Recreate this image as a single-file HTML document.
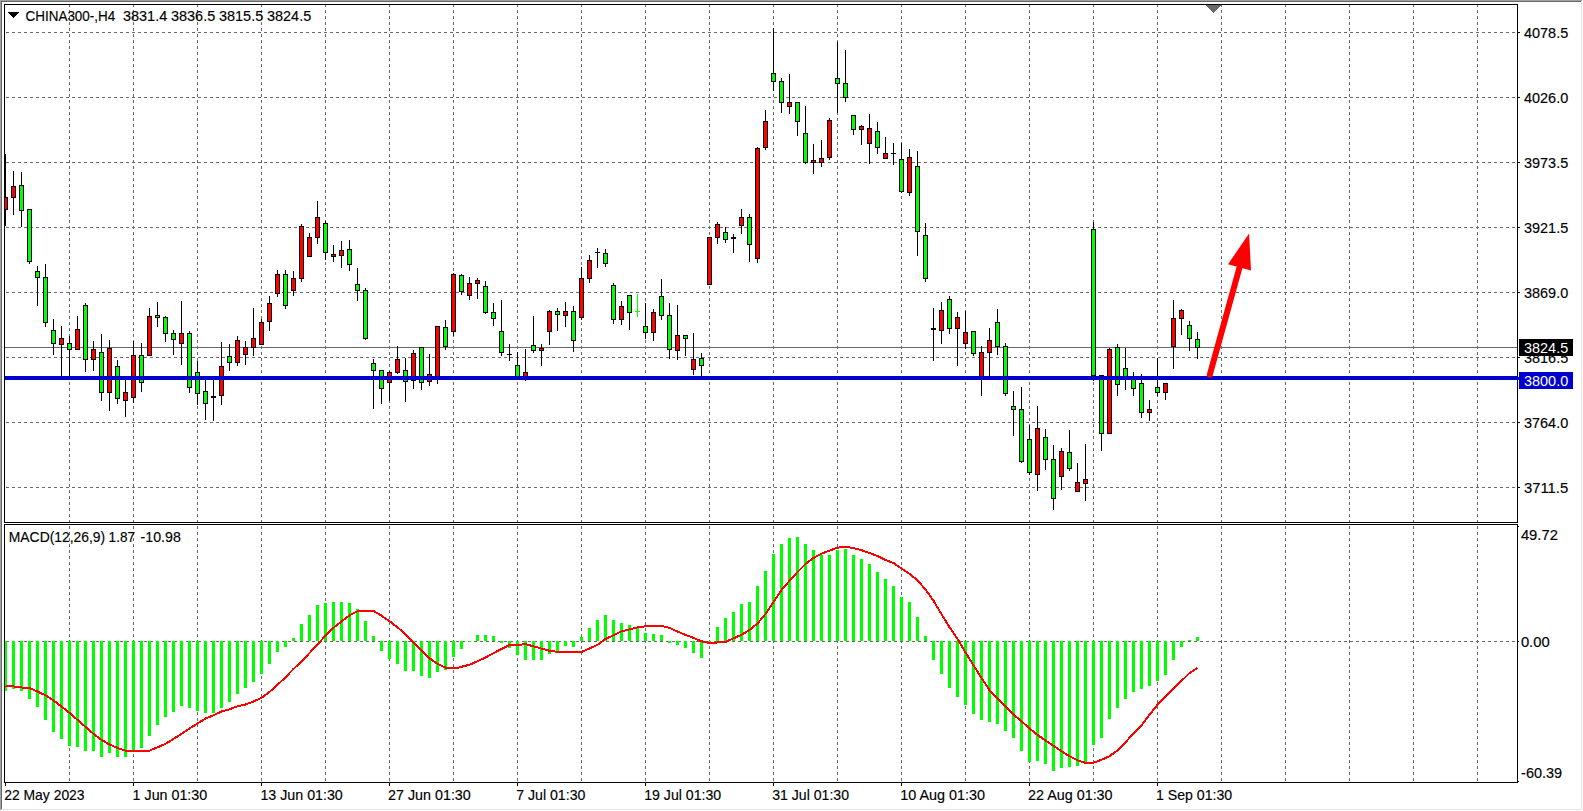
<!DOCTYPE html>
<html lang="en">
<head>
<meta charset="utf-8">
<title>CHINA300-,H4</title>
<style>
html,body{margin:0;padding:0;background:#fff;overflow:hidden}
svg{display:block}
text{font-family:"Liberation Sans", sans-serif;font-size:14.5px;white-space:pre;stroke-width:0.15px}
</style>
</head>
<body>
<svg width="1583" height="811" viewBox="0 0 1583 811">
<rect x="0" y="0" width="1583" height="811" fill="#fff"/>
<defs>
<clipPath id="cm"><rect x="5" y="5" width="1512" height="517"/></clipPath>
<clipPath id="cs"><rect x="5" y="525" width="1512" height="257"/></clipPath>
</defs>
<g shape-rendering="crispEdges">
<rect x="0" y="0" width="1583" height="1" fill="#a0a0a0"/><rect x="0" y="0" width="1" height="811" fill="#a0a0a0"/><rect x="1" y="1" width="1581" height="1" fill="#696969"/><rect x="1" y="1" width="1" height="809" fill="#696969"/><rect x="1" y="809" width="1581" height="1" fill="#e3e3e3"/><rect x="1581" y="1" width="1" height="809" fill="#e3e3e3"/><rect x="0" y="810" width="1583" height="1" fill="#ffffff"/><rect x="1582" y="0" width="1" height="811" fill="#ffffff"/>
<g stroke="#696969" stroke-width="1" stroke-dasharray="3 3" fill="none">
<line x1="69.5" y1="5" x2="69.5" y2="522" stroke-dashoffset="1"/><line x1="69.5" y1="525" x2="69.5" y2="782" stroke-dashoffset="5"/><line x1="133.5" y1="5" x2="133.5" y2="522" stroke-dashoffset="1"/><line x1="133.5" y1="525" x2="133.5" y2="782" stroke-dashoffset="5"/><line x1="197.5" y1="5" x2="197.5" y2="522" stroke-dashoffset="1"/><line x1="197.5" y1="525" x2="197.5" y2="782" stroke-dashoffset="5"/><line x1="261.5" y1="5" x2="261.5" y2="522" stroke-dashoffset="1"/><line x1="261.5" y1="525" x2="261.5" y2="782" stroke-dashoffset="5"/><line x1="325.5" y1="5" x2="325.5" y2="522" stroke-dashoffset="1"/><line x1="325.5" y1="525" x2="325.5" y2="782" stroke-dashoffset="5"/><line x1="389.5" y1="5" x2="389.5" y2="522" stroke-dashoffset="1"/><line x1="389.5" y1="525" x2="389.5" y2="782" stroke-dashoffset="5"/><line x1="453.5" y1="5" x2="453.5" y2="522" stroke-dashoffset="1"/><line x1="453.5" y1="525" x2="453.5" y2="782" stroke-dashoffset="5"/><line x1="517.5" y1="5" x2="517.5" y2="522" stroke-dashoffset="1"/><line x1="517.5" y1="525" x2="517.5" y2="782" stroke-dashoffset="5"/><line x1="581.5" y1="5" x2="581.5" y2="522" stroke-dashoffset="1"/><line x1="581.5" y1="525" x2="581.5" y2="782" stroke-dashoffset="5"/><line x1="645.5" y1="5" x2="645.5" y2="522" stroke-dashoffset="1"/><line x1="645.5" y1="525" x2="645.5" y2="782" stroke-dashoffset="5"/><line x1="709.5" y1="5" x2="709.5" y2="522" stroke-dashoffset="1"/><line x1="709.5" y1="525" x2="709.5" y2="782" stroke-dashoffset="5"/><line x1="773.5" y1="5" x2="773.5" y2="522" stroke-dashoffset="1"/><line x1="773.5" y1="525" x2="773.5" y2="782" stroke-dashoffset="5"/><line x1="837.5" y1="5" x2="837.5" y2="522" stroke-dashoffset="1"/><line x1="837.5" y1="525" x2="837.5" y2="782" stroke-dashoffset="5"/><line x1="901.5" y1="5" x2="901.5" y2="522" stroke-dashoffset="1"/><line x1="901.5" y1="525" x2="901.5" y2="782" stroke-dashoffset="5"/><line x1="965.5" y1="5" x2="965.5" y2="522" stroke-dashoffset="1"/><line x1="965.5" y1="525" x2="965.5" y2="782" stroke-dashoffset="5"/><line x1="1029.5" y1="5" x2="1029.5" y2="522" stroke-dashoffset="1"/><line x1="1029.5" y1="525" x2="1029.5" y2="782" stroke-dashoffset="5"/><line x1="1093.5" y1="5" x2="1093.5" y2="522" stroke-dashoffset="1"/><line x1="1093.5" y1="525" x2="1093.5" y2="782" stroke-dashoffset="5"/><line x1="1157.5" y1="5" x2="1157.5" y2="522" stroke-dashoffset="1"/><line x1="1157.5" y1="525" x2="1157.5" y2="782" stroke-dashoffset="5"/><line x1="1221.5" y1="5" x2="1221.5" y2="522" stroke-dashoffset="1"/><line x1="1221.5" y1="525" x2="1221.5" y2="782" stroke-dashoffset="5"/><line x1="1285.5" y1="5" x2="1285.5" y2="522" stroke-dashoffset="1"/><line x1="1285.5" y1="525" x2="1285.5" y2="782" stroke-dashoffset="5"/><line x1="1349.5" y1="5" x2="1349.5" y2="522" stroke-dashoffset="1"/><line x1="1349.5" y1="525" x2="1349.5" y2="782" stroke-dashoffset="5"/><line x1="1413.5" y1="5" x2="1413.5" y2="522" stroke-dashoffset="1"/><line x1="1413.5" y1="525" x2="1413.5" y2="782" stroke-dashoffset="5"/><line x1="1477.5" y1="5" x2="1477.5" y2="522" stroke-dashoffset="1"/><line x1="1477.5" y1="525" x2="1477.5" y2="782" stroke-dashoffset="5"/><line x1="5" y1="32.5" x2="1517" y2="32.5" stroke-dashoffset="5"/><line x1="5" y1="97.5" x2="1517" y2="97.5" stroke-dashoffset="5"/><line x1="5" y1="162.5" x2="1517" y2="162.5" stroke-dashoffset="5"/><line x1="5" y1="227.5" x2="1517" y2="227.5" stroke-dashoffset="5"/><line x1="5" y1="292.5" x2="1517" y2="292.5" stroke-dashoffset="5"/><line x1="5" y1="357.5" x2="1517" y2="357.5" stroke-dashoffset="5"/><line x1="5" y1="422.5" x2="1517" y2="422.5" stroke-dashoffset="5"/><line x1="5" y1="487.5" x2="1517" y2="487.5" stroke-dashoffset="5"/><line x1="5" y1="641.5" x2="1517" y2="641.5" stroke-dashoffset="5"/>
</g>
<g clip-path="url(#cm)">
<rect x="5" y="347" width="1512" height="1" fill="#696969"/>
<rect x="5" y="154" width="1" height="72" fill="#000"/><rect x="3" y="197" width="5" height="13" fill="#000"/><rect x="4" y="198" width="3" height="11" fill="#ff0000"/><rect x="13" y="171" width="1" height="44" fill="#000"/><rect x="11" y="186" width="5" height="12" fill="#000"/><rect x="12" y="187" width="3" height="10" fill="#ff0000"/><rect x="21" y="172" width="1" height="55" fill="#000"/><rect x="19" y="185" width="5" height="26" fill="#000"/><rect x="20" y="186" width="3" height="24" fill="#00ff00"/><rect x="29" y="209" width="1" height="55" fill="#000"/><rect x="27" y="209" width="5" height="53" fill="#000"/><rect x="28" y="210" width="3" height="51" fill="#00ff00"/><rect x="37" y="266" width="1" height="40" fill="#000"/><rect x="35" y="271" width="5" height="7" fill="#000"/><rect x="36" y="272" width="3" height="5" fill="#00ff00"/><rect x="45" y="264" width="1" height="63" fill="#000"/><rect x="43" y="277" width="5" height="46" fill="#000"/><rect x="44" y="278" width="3" height="44" fill="#00ff00"/><rect x="53" y="319" width="1" height="36" fill="#000"/><rect x="51" y="330" width="5" height="14" fill="#000"/><rect x="52" y="331" width="3" height="12" fill="#00ff00"/><rect x="61" y="326" width="1" height="52" fill="#000"/><rect x="59" y="338" width="5" height="7" fill="#000"/><rect x="60" y="339" width="3" height="5" fill="#ff0000"/><rect x="69" y="336" width="1" height="42" fill="#000"/><rect x="67" y="343" width="5" height="7" fill="#000"/><rect x="68" y="344" width="3" height="5" fill="#00ff00"/><rect x="77" y="316" width="1" height="34" fill="#000"/><rect x="75" y="329" width="5" height="21" fill="#000"/><rect x="76" y="330" width="3" height="19" fill="#ff0000"/><rect x="85" y="303" width="1" height="69" fill="#000"/><rect x="83" y="305" width="5" height="55" fill="#000"/><rect x="84" y="306" width="3" height="53" fill="#00ff00"/><rect x="93" y="341" width="1" height="30" fill="#000"/><rect x="91" y="349" width="5" height="11" fill="#000"/><rect x="92" y="350" width="3" height="9" fill="#ff0000"/><rect x="101" y="334" width="1" height="67" fill="#000"/><rect x="99" y="352" width="5" height="41" fill="#000"/><rect x="100" y="353" width="3" height="39" fill="#00ff00"/><rect x="109" y="340" width="1" height="71" fill="#000"/><rect x="107" y="348" width="5" height="45" fill="#000"/><rect x="108" y="349" width="3" height="43" fill="#ff0000"/><rect x="117" y="360" width="1" height="44" fill="#000"/><rect x="115" y="366" width="5" height="33" fill="#000"/><rect x="116" y="367" width="3" height="31" fill="#00ff00"/><rect x="125" y="378" width="1" height="39" fill="#000"/><rect x="123" y="392" width="5" height="9" fill="#000"/><rect x="124" y="393" width="3" height="7" fill="#ff0000"/><rect x="133" y="341" width="1" height="62" fill="#000"/><rect x="131" y="355" width="5" height="43" fill="#000"/><rect x="132" y="356" width="3" height="41" fill="#ff0000"/><rect x="141" y="343" width="1" height="49" fill="#000"/><rect x="139" y="355" width="5" height="28" fill="#000"/><rect x="140" y="356" width="3" height="26" fill="#00ff00"/><rect x="149" y="308" width="1" height="48" fill="#000"/><rect x="147" y="316" width="5" height="40" fill="#000"/><rect x="148" y="317" width="3" height="38" fill="#ff0000"/><rect x="157" y="302" width="1" height="25" fill="#000"/><rect x="155" y="315" width="5" height="3" fill="#000"/><rect x="156" y="316" width="3" height="1" fill="#00ff00"/><rect x="165" y="316" width="1" height="26" fill="#000"/><rect x="163" y="317" width="5" height="17" fill="#000"/><rect x="164" y="318" width="3" height="15" fill="#00ff00"/><rect x="173" y="330" width="1" height="25" fill="#000"/><rect x="171" y="333" width="5" height="7" fill="#000"/><rect x="172" y="334" width="3" height="5" fill="#00ff00"/><rect x="181" y="301" width="1" height="64" fill="#000"/><rect x="179" y="333" width="5" height="11" fill="#000"/><rect x="180" y="334" width="3" height="9" fill="#ff0000"/><rect x="189" y="331" width="1" height="62" fill="#000"/><rect x="187" y="333" width="5" height="55" fill="#000"/><rect x="188" y="334" width="3" height="53" fill="#00ff00"/><rect x="197" y="361" width="1" height="44" fill="#000"/><rect x="195" y="372" width="5" height="22" fill="#000"/><rect x="196" y="373" width="3" height="20" fill="#00ff00"/><rect x="205" y="378" width="1" height="42" fill="#000"/><rect x="203" y="391" width="5" height="13" fill="#000"/><rect x="204" y="392" width="3" height="11" fill="#00ff00"/><rect x="213" y="378" width="1" height="43" fill="#000"/><rect x="211" y="396" width="5" height="2" fill="#000"/><rect x="221" y="342" width="1" height="63" fill="#000"/><rect x="219" y="366" width="5" height="30" fill="#000"/><rect x="220" y="367" width="3" height="28" fill="#ff0000"/><rect x="229" y="344" width="1" height="27" fill="#000"/><rect x="227" y="356" width="5" height="7" fill="#000"/><rect x="228" y="357" width="3" height="5" fill="#00ff00"/><rect x="237" y="336" width="1" height="30" fill="#000"/><rect x="235" y="340" width="5" height="23" fill="#000"/><rect x="236" y="341" width="3" height="21" fill="#ff0000"/><rect x="245" y="341" width="1" height="24" fill="#000"/><rect x="243" y="347" width="5" height="8" fill="#000"/><rect x="244" y="348" width="3" height="6" fill="#ff0000"/><rect x="253" y="308" width="1" height="48" fill="#000"/><rect x="251" y="338" width="5" height="10" fill="#000"/><rect x="252" y="339" width="3" height="8" fill="#ff0000"/><rect x="261" y="319" width="1" height="26" fill="#000"/><rect x="259" y="322" width="5" height="23" fill="#000"/><rect x="260" y="323" width="3" height="21" fill="#ff0000"/><rect x="269" y="296" width="1" height="35" fill="#000"/><rect x="267" y="303" width="5" height="19" fill="#000"/><rect x="268" y="304" width="3" height="17" fill="#ff0000"/><rect x="277" y="270" width="1" height="27" fill="#000"/><rect x="275" y="274" width="5" height="20" fill="#000"/><rect x="276" y="275" width="3" height="18" fill="#ff0000"/><rect x="285" y="270" width="1" height="39" fill="#000"/><rect x="283" y="274" width="5" height="32" fill="#000"/><rect x="284" y="275" width="3" height="30" fill="#00ff00"/><rect x="293" y="271" width="1" height="25" fill="#000"/><rect x="291" y="278" width="5" height="13" fill="#000"/><rect x="292" y="279" width="3" height="11" fill="#ff0000"/><rect x="301" y="224" width="1" height="58" fill="#000"/><rect x="299" y="226" width="5" height="53" fill="#000"/><rect x="300" y="227" width="3" height="51" fill="#ff0000"/><rect x="309" y="233" width="1" height="24" fill="#000"/><rect x="307" y="237" width="5" height="20" fill="#000"/><rect x="308" y="238" width="3" height="18" fill="#ff0000"/><rect x="317" y="201" width="1" height="43" fill="#000"/><rect x="315" y="217" width="5" height="21" fill="#000"/><rect x="316" y="218" width="3" height="19" fill="#ff0000"/><rect x="325" y="221" width="1" height="39" fill="#000"/><rect x="323" y="223" width="5" height="30" fill="#000"/><rect x="324" y="224" width="3" height="28" fill="#00ff00"/><rect x="333" y="245" width="1" height="17" fill="#000"/><rect x="331" y="254" width="5" height="3" fill="#000"/><rect x="332" y="255" width="3" height="1" fill="#ff0000"/><rect x="341" y="241" width="1" height="27" fill="#000"/><rect x="339" y="250" width="5" height="6" fill="#000"/><rect x="340" y="251" width="3" height="4" fill="#ff0000"/><rect x="349" y="240" width="1" height="31" fill="#000"/><rect x="347" y="249" width="5" height="16" fill="#000"/><rect x="348" y="250" width="3" height="14" fill="#00ff00"/><rect x="357" y="268" width="1" height="33" fill="#000"/><rect x="355" y="284" width="5" height="7" fill="#000"/><rect x="356" y="285" width="3" height="5" fill="#00ff00"/><rect x="365" y="288" width="1" height="52" fill="#000"/><rect x="363" y="290" width="5" height="49" fill="#000"/><rect x="364" y="291" width="3" height="47" fill="#00ff00"/><rect x="373" y="359" width="1" height="50" fill="#000"/><rect x="371" y="363" width="5" height="8" fill="#000"/><rect x="372" y="364" width="3" height="6" fill="#00ff00"/><rect x="381" y="370" width="1" height="34" fill="#000"/><rect x="379" y="370" width="5" height="19" fill="#000"/><rect x="380" y="371" width="3" height="17" fill="#00ff00"/><rect x="389" y="371" width="1" height="30" fill="#000"/><rect x="387" y="372" width="5" height="11" fill="#000"/><rect x="388" y="373" width="3" height="9" fill="#ff0000"/><rect x="397" y="346" width="1" height="28" fill="#000"/><rect x="395" y="359" width="5" height="14" fill="#000"/><rect x="396" y="360" width="3" height="12" fill="#ff0000"/><rect x="405" y="358" width="1" height="44" fill="#000"/><rect x="403" y="370" width="5" height="12" fill="#000"/><rect x="404" y="371" width="3" height="10" fill="#00ff00"/><rect x="413" y="350" width="1" height="39" fill="#000"/><rect x="411" y="353" width="5" height="28" fill="#000"/><rect x="412" y="354" width="3" height="26" fill="#ff0000"/><rect x="421" y="347" width="1" height="43" fill="#000"/><rect x="419" y="347" width="5" height="36" fill="#000"/><rect x="420" y="348" width="3" height="34" fill="#00ff00"/><rect x="429" y="354" width="1" height="32" fill="#000"/><rect x="427" y="374" width="5" height="8" fill="#000"/><rect x="428" y="375" width="3" height="6" fill="#ff0000"/><rect x="437" y="326" width="1" height="58" fill="#000"/><rect x="435" y="326" width="5" height="53" fill="#000"/><rect x="436" y="327" width="3" height="51" fill="#ff0000"/><rect x="445" y="320" width="1" height="30" fill="#000"/><rect x="443" y="327" width="5" height="20" fill="#000"/><rect x="444" y="328" width="3" height="18" fill="#00ff00"/><rect x="453" y="273" width="1" height="63" fill="#000"/><rect x="451" y="274" width="5" height="58" fill="#000"/><rect x="452" y="275" width="3" height="56" fill="#ff0000"/><rect x="461" y="274" width="1" height="21" fill="#000"/><rect x="459" y="275" width="5" height="17" fill="#000"/><rect x="460" y="276" width="3" height="15" fill="#00ff00"/><rect x="469" y="277" width="1" height="23" fill="#000"/><rect x="467" y="283" width="5" height="13" fill="#000"/><rect x="468" y="284" width="3" height="11" fill="#ff0000"/><rect x="477" y="278" width="1" height="21" fill="#000"/><rect x="475" y="280" width="5" height="4" fill="#000"/><rect x="476" y="281" width="3" height="2" fill="#ff0000"/><rect x="485" y="281" width="1" height="33" fill="#000"/><rect x="483" y="286" width="5" height="27" fill="#000"/><rect x="484" y="287" width="3" height="25" fill="#00ff00"/><rect x="493" y="303" width="1" height="23" fill="#000"/><rect x="491" y="312" width="5" height="7" fill="#000"/><rect x="492" y="313" width="3" height="5" fill="#00ff00"/><rect x="501" y="300" width="1" height="56" fill="#000"/><rect x="499" y="331" width="5" height="22" fill="#000"/><rect x="500" y="332" width="3" height="20" fill="#00ff00"/><rect x="509" y="344" width="1" height="17" fill="#000"/><rect x="507" y="354" width="5" height="1" fill="#000"/><rect x="517" y="352" width="1" height="28" fill="#000"/><rect x="515" y="365" width="5" height="15" fill="#000"/><rect x="516" y="366" width="3" height="13" fill="#00ff00"/><rect x="525" y="349" width="1" height="32" fill="#000"/><rect x="523" y="372" width="5" height="7" fill="#000"/><rect x="524" y="373" width="3" height="5" fill="#ff0000"/><rect x="533" y="316" width="1" height="37" fill="#000"/><rect x="531" y="345" width="5" height="6" fill="#000"/><rect x="532" y="346" width="3" height="4" fill="#00ff00"/><rect x="541" y="344" width="1" height="22" fill="#000"/><rect x="539" y="348" width="5" height="3" fill="#000"/><rect x="540" y="349" width="3" height="1" fill="#ff0000"/><rect x="549" y="310" width="1" height="35" fill="#000"/><rect x="547" y="311" width="5" height="21" fill="#000"/><rect x="548" y="312" width="3" height="19" fill="#ff0000"/><rect x="557" y="308" width="1" height="23" fill="#000"/><rect x="555" y="311" width="5" height="4" fill="#000"/><rect x="556" y="312" width="3" height="2" fill="#00ff00"/><rect x="565" y="302" width="1" height="25" fill="#000"/><rect x="563" y="311" width="5" height="5" fill="#000"/><rect x="564" y="312" width="3" height="3" fill="#ff0000"/><rect x="573" y="306" width="1" height="46" fill="#000"/><rect x="571" y="311" width="5" height="30" fill="#000"/><rect x="572" y="312" width="3" height="28" fill="#00ff00"/><rect x="581" y="267" width="1" height="53" fill="#000"/><rect x="579" y="278" width="5" height="40" fill="#000"/><rect x="580" y="279" width="3" height="38" fill="#ff0000"/><rect x="589" y="255" width="1" height="28" fill="#000"/><rect x="587" y="260" width="5" height="19" fill="#000"/><rect x="588" y="261" width="3" height="17" fill="#ff0000"/><rect x="597" y="248" width="1" height="20" fill="#000"/><rect x="595" y="252" width="5" height="1" fill="#000"/><rect x="605" y="249" width="1" height="18" fill="#000"/><rect x="603" y="253" width="5" height="11" fill="#000"/><rect x="604" y="254" width="3" height="9" fill="#00ff00"/><rect x="613" y="283" width="1" height="41" fill="#000"/><rect x="611" y="285" width="5" height="35" fill="#000"/><rect x="612" y="286" width="3" height="33" fill="#00ff00"/><rect x="621" y="301" width="1" height="24" fill="#000"/><rect x="619" y="306" width="5" height="14" fill="#000"/><rect x="620" y="307" width="3" height="12" fill="#ff0000"/><rect x="629" y="295" width="1" height="35" fill="#000"/><rect x="627" y="295" width="5" height="18" fill="#000"/><rect x="628" y="296" width="3" height="16" fill="#00ff00"/><rect x="637" y="294" width="1" height="23" fill="#00ff00"/><rect x="635" y="311" width="5" height="1" fill="#00ff00"/><rect x="645" y="303" width="1" height="36" fill="#000"/><rect x="643" y="326" width="5" height="7" fill="#000"/><rect x="644" y="327" width="3" height="5" fill="#00ff00"/><rect x="653" y="309" width="1" height="32" fill="#000"/><rect x="651" y="312" width="5" height="21" fill="#000"/><rect x="652" y="313" width="3" height="19" fill="#ff0000"/><rect x="661" y="279" width="1" height="41" fill="#000"/><rect x="659" y="296" width="5" height="20" fill="#000"/><rect x="660" y="297" width="3" height="18" fill="#00ff00"/><rect x="669" y="303" width="1" height="56" fill="#000"/><rect x="667" y="315" width="5" height="35" fill="#000"/><rect x="668" y="316" width="3" height="33" fill="#00ff00"/><rect x="677" y="305" width="1" height="55" fill="#000"/><rect x="675" y="335" width="5" height="16" fill="#000"/><rect x="676" y="336" width="3" height="14" fill="#ff0000"/><rect x="685" y="335" width="1" height="21" fill="#000"/><rect x="683" y="335" width="5" height="4" fill="#000"/><rect x="684" y="336" width="3" height="2" fill="#00ff00"/><rect x="693" y="333" width="1" height="42" fill="#000"/><rect x="691" y="359" width="5" height="11" fill="#000"/><rect x="692" y="360" width="3" height="9" fill="#ff0000"/><rect x="701" y="353" width="1" height="24" fill="#000"/><rect x="699" y="358" width="5" height="8" fill="#000"/><rect x="700" y="359" width="3" height="6" fill="#00ff00"/><rect x="709" y="237" width="1" height="48" fill="#000"/><rect x="707" y="237" width="5" height="48" fill="#000"/><rect x="708" y="238" width="3" height="46" fill="#ff0000"/><rect x="717" y="222" width="1" height="22" fill="#000"/><rect x="715" y="224" width="5" height="14" fill="#000"/><rect x="716" y="225" width="3" height="12" fill="#ff0000"/><rect x="725" y="227" width="1" height="16" fill="#000"/><rect x="723" y="232" width="5" height="8" fill="#000"/><rect x="724" y="233" width="3" height="6" fill="#00ff00"/><rect x="733" y="234" width="1" height="19" fill="#000"/><rect x="731" y="237" width="5" height="2" fill="#000"/><rect x="741" y="209" width="1" height="25" fill="#000"/><rect x="739" y="217" width="5" height="9" fill="#000"/><rect x="740" y="218" width="3" height="7" fill="#ff0000"/><rect x="749" y="214" width="1" height="48" fill="#000"/><rect x="747" y="217" width="5" height="28" fill="#000"/><rect x="748" y="218" width="3" height="26" fill="#00ff00"/><rect x="757" y="147" width="1" height="116" fill="#000"/><rect x="755" y="148" width="5" height="111" fill="#000"/><rect x="756" y="149" width="3" height="109" fill="#ff0000"/><rect x="765" y="110" width="1" height="40" fill="#000"/><rect x="763" y="121" width="5" height="27" fill="#000"/><rect x="764" y="122" width="3" height="25" fill="#ff0000"/><rect x="773" y="28" width="1" height="63" fill="#000"/><rect x="771" y="73" width="5" height="9" fill="#000"/><rect x="772" y="74" width="3" height="7" fill="#00ff00"/><rect x="781" y="78" width="1" height="35" fill="#000"/><rect x="779" y="81" width="5" height="22" fill="#000"/><rect x="780" y="82" width="3" height="20" fill="#00ff00"/><rect x="789" y="74" width="1" height="40" fill="#000"/><rect x="787" y="102" width="5" height="5" fill="#000"/><rect x="788" y="103" width="3" height="3" fill="#ff0000"/><rect x="797" y="102" width="1" height="34" fill="#000"/><rect x="795" y="102" width="5" height="20" fill="#000"/><rect x="796" y="103" width="3" height="18" fill="#00ff00"/><rect x="805" y="106" width="1" height="58" fill="#000"/><rect x="803" y="133" width="5" height="30" fill="#000"/><rect x="804" y="134" width="3" height="28" fill="#00ff00"/><rect x="813" y="144" width="1" height="30" fill="#000"/><rect x="811" y="160" width="5" height="3" fill="#000"/><rect x="812" y="161" width="3" height="1" fill="#ff0000"/><rect x="821" y="140" width="1" height="27" fill="#000"/><rect x="819" y="158" width="5" height="5" fill="#000"/><rect x="820" y="159" width="3" height="3" fill="#ff0000"/><rect x="829" y="118" width="1" height="42" fill="#000"/><rect x="827" y="120" width="5" height="38" fill="#000"/><rect x="828" y="121" width="3" height="36" fill="#ff0000"/><rect x="837" y="42" width="1" height="71" fill="#000"/><rect x="835" y="78" width="5" height="6" fill="#000"/><rect x="836" y="79" width="3" height="4" fill="#00ff00"/><rect x="845" y="50" width="1" height="52" fill="#000"/><rect x="843" y="83" width="5" height="15" fill="#000"/><rect x="844" y="84" width="3" height="13" fill="#00ff00"/><rect x="853" y="115" width="1" height="20" fill="#000"/><rect x="851" y="115" width="5" height="15" fill="#000"/><rect x="852" y="116" width="3" height="13" fill="#00ff00"/><rect x="861" y="125" width="1" height="20" fill="#000"/><rect x="859" y="126" width="5" height="4" fill="#000"/><rect x="860" y="127" width="3" height="2" fill="#ff0000"/><rect x="869" y="114" width="1" height="50" fill="#000"/><rect x="867" y="128" width="5" height="16" fill="#000"/><rect x="868" y="129" width="3" height="14" fill="#ff0000"/><rect x="877" y="122" width="1" height="32" fill="#000"/><rect x="875" y="131" width="5" height="17" fill="#000"/><rect x="876" y="132" width="3" height="15" fill="#00ff00"/><rect x="885" y="137" width="1" height="22" fill="#000"/><rect x="883" y="153" width="5" height="6" fill="#000"/><rect x="884" y="154" width="3" height="4" fill="#ff0000"/><rect x="893" y="143" width="1" height="22" fill="#000"/><rect x="891" y="153" width="5" height="1" fill="#000"/><rect x="901" y="143" width="1" height="50" fill="#000"/><rect x="899" y="159" width="5" height="33" fill="#000"/><rect x="900" y="160" width="3" height="31" fill="#00ff00"/><rect x="909" y="149" width="1" height="47" fill="#000"/><rect x="907" y="157" width="5" height="36" fill="#000"/><rect x="908" y="158" width="3" height="34" fill="#ff0000"/><rect x="917" y="151" width="1" height="105" fill="#000"/><rect x="915" y="166" width="5" height="66" fill="#000"/><rect x="916" y="167" width="3" height="64" fill="#00ff00"/><rect x="925" y="223" width="1" height="59" fill="#000"/><rect x="923" y="235" width="5" height="44" fill="#000"/><rect x="924" y="236" width="3" height="42" fill="#00ff00"/><rect x="933" y="308" width="1" height="53" fill="#000"/><rect x="931" y="328" width="5" height="2" fill="#000"/><rect x="941" y="302" width="1" height="42" fill="#000"/><rect x="939" y="310" width="5" height="21" fill="#000"/><rect x="940" y="311" width="3" height="19" fill="#ff0000"/><rect x="949" y="296" width="1" height="38" fill="#000"/><rect x="947" y="299" width="5" height="30" fill="#000"/><rect x="948" y="300" width="3" height="28" fill="#00ff00"/><rect x="957" y="312" width="1" height="54" fill="#000"/><rect x="955" y="317" width="5" height="12" fill="#000"/><rect x="956" y="318" width="3" height="10" fill="#ff0000"/><rect x="965" y="311" width="1" height="38" fill="#000"/><rect x="963" y="332" width="5" height="12" fill="#000"/><rect x="964" y="333" width="3" height="10" fill="#ff0000"/><rect x="973" y="331" width="1" height="25" fill="#000"/><rect x="971" y="331" width="5" height="23" fill="#000"/><rect x="972" y="332" width="3" height="21" fill="#00ff00"/><rect x="981" y="346" width="1" height="50" fill="#000"/><rect x="979" y="352" width="5" height="27" fill="#000"/><rect x="980" y="353" width="3" height="25" fill="#ff0000"/><rect x="989" y="328" width="1" height="50" fill="#000"/><rect x="987" y="340" width="5" height="13" fill="#000"/><rect x="988" y="341" width="3" height="11" fill="#ff0000"/><rect x="997" y="309" width="1" height="46" fill="#000"/><rect x="995" y="322" width="5" height="25" fill="#000"/><rect x="996" y="323" width="3" height="23" fill="#00ff00"/><rect x="1005" y="343" width="1" height="53" fill="#000"/><rect x="1003" y="346" width="5" height="48" fill="#000"/><rect x="1004" y="347" width="3" height="46" fill="#00ff00"/><rect x="1013" y="391" width="1" height="45" fill="#000"/><rect x="1011" y="406" width="5" height="4" fill="#000"/><rect x="1012" y="407" width="3" height="2" fill="#00ff00"/><rect x="1021" y="387" width="1" height="76" fill="#000"/><rect x="1019" y="409" width="5" height="53" fill="#000"/><rect x="1020" y="410" width="3" height="51" fill="#00ff00"/><rect x="1029" y="425" width="1" height="50" fill="#000"/><rect x="1027" y="439" width="5" height="34" fill="#000"/><rect x="1028" y="440" width="3" height="32" fill="#00ff00"/><rect x="1037" y="406" width="1" height="85" fill="#000"/><rect x="1035" y="428" width="5" height="47" fill="#000"/><rect x="1036" y="429" width="3" height="45" fill="#ff0000"/><rect x="1045" y="429" width="1" height="41" fill="#000"/><rect x="1043" y="437" width="5" height="23" fill="#000"/><rect x="1044" y="438" width="3" height="21" fill="#00ff00"/><rect x="1053" y="445" width="1" height="65" fill="#000"/><rect x="1051" y="459" width="5" height="40" fill="#000"/><rect x="1052" y="460" width="3" height="38" fill="#00ff00"/><rect x="1061" y="448" width="1" height="42" fill="#000"/><rect x="1059" y="451" width="5" height="26" fill="#000"/><rect x="1060" y="452" width="3" height="24" fill="#ff0000"/><rect x="1069" y="430" width="1" height="41" fill="#000"/><rect x="1067" y="452" width="5" height="17" fill="#000"/><rect x="1068" y="453" width="3" height="15" fill="#00ff00"/><rect x="1077" y="463" width="1" height="29" fill="#000"/><rect x="1075" y="482" width="5" height="10" fill="#000"/><rect x="1076" y="483" width="3" height="8" fill="#ff0000"/><rect x="1085" y="444" width="1" height="57" fill="#000"/><rect x="1083" y="479" width="5" height="5" fill="#000"/><rect x="1084" y="480" width="3" height="3" fill="#ff0000"/><rect x="1093" y="222" width="1" height="159" fill="#000"/><rect x="1091" y="229" width="5" height="147" fill="#000"/><rect x="1092" y="230" width="3" height="145" fill="#00ff00"/><rect x="1101" y="375" width="1" height="76" fill="#000"/><rect x="1099" y="375" width="5" height="59" fill="#000"/><rect x="1100" y="376" width="3" height="57" fill="#00ff00"/><rect x="1109" y="348" width="1" height="86" fill="#000"/><rect x="1107" y="349" width="5" height="85" fill="#000"/><rect x="1108" y="350" width="3" height="83" fill="#ff0000"/><rect x="1117" y="344" width="1" height="52" fill="#000"/><rect x="1115" y="347" width="5" height="38" fill="#000"/><rect x="1116" y="348" width="3" height="36" fill="#00ff00"/><rect x="1125" y="348" width="1" height="42" fill="#000"/><rect x="1123" y="368" width="5" height="11" fill="#000"/><rect x="1124" y="369" width="3" height="9" fill="#00ff00"/><rect x="1133" y="372" width="1" height="24" fill="#000"/><rect x="1131" y="377" width="5" height="12" fill="#000"/><rect x="1132" y="378" width="3" height="10" fill="#00ff00"/><rect x="1141" y="374" width="1" height="44" fill="#000"/><rect x="1139" y="383" width="5" height="30" fill="#000"/><rect x="1140" y="384" width="3" height="28" fill="#00ff00"/><rect x="1149" y="400" width="1" height="21" fill="#000"/><rect x="1147" y="409" width="5" height="4" fill="#000"/><rect x="1148" y="410" width="3" height="2" fill="#ff0000"/><rect x="1157" y="358" width="1" height="38" fill="#000"/><rect x="1155" y="387" width="5" height="6" fill="#000"/><rect x="1156" y="388" width="3" height="4" fill="#00ff00"/><rect x="1165" y="383" width="1" height="17" fill="#000"/><rect x="1163" y="383" width="5" height="10" fill="#000"/><rect x="1164" y="384" width="3" height="8" fill="#ff0000"/><rect x="1173" y="300" width="1" height="69" fill="#000"/><rect x="1171" y="318" width="5" height="29" fill="#000"/><rect x="1172" y="319" width="3" height="27" fill="#ff0000"/><rect x="1181" y="309" width="1" height="26" fill="#000"/><rect x="1179" y="310" width="5" height="9" fill="#000"/><rect x="1180" y="311" width="3" height="7" fill="#ff0000"/><rect x="1189" y="321" width="1" height="30" fill="#000"/><rect x="1187" y="325" width="5" height="14" fill="#000"/><rect x="1188" y="326" width="3" height="12" fill="#00ff00"/><rect x="1197" y="332" width="1" height="27" fill="#000"/><rect x="1195" y="339" width="5" height="9" fill="#000"/><rect x="1196" y="340" width="3" height="7" fill="#00ff00"/>
<rect x="5" y="376" width="1512" height="4" fill="#0000cd"/>
</g>
<g clip-path="url(#cs)">
<rect x="4" y="641" width="3" height="50" fill="#00ff00"/><rect x="12" y="641" width="3" height="48" fill="#00ff00"/><rect x="20" y="641" width="3" height="50" fill="#00ff00"/><rect x="28" y="641" width="3" height="58" fill="#00ff00"/><rect x="36" y="641" width="3" height="66" fill="#00ff00"/><rect x="44" y="641" width="3" height="79" fill="#00ff00"/><rect x="52" y="641" width="3" height="91" fill="#00ff00"/><rect x="60" y="641" width="3" height="98" fill="#00ff00"/><rect x="68" y="641" width="3" height="105" fill="#00ff00"/><rect x="76" y="641" width="3" height="106" fill="#00ff00"/><rect x="84" y="641" width="3" height="110" fill="#00ff00"/><rect x="92" y="641" width="3" height="110" fill="#00ff00"/><rect x="100" y="641" width="3" height="116" fill="#00ff00"/><rect x="108" y="641" width="3" height="112" fill="#00ff00"/><rect x="116" y="641" width="3" height="116" fill="#00ff00"/><rect x="124" y="641" width="3" height="116" fill="#00ff00"/><rect x="132" y="641" width="3" height="111" fill="#00ff00"/><rect x="140" y="641" width="3" height="107" fill="#00ff00"/><rect x="148" y="641" width="3" height="95" fill="#00ff00"/><rect x="156" y="641" width="3" height="84" fill="#00ff00"/><rect x="164" y="641" width="3" height="76" fill="#00ff00"/><rect x="172" y="641" width="3" height="71" fill="#00ff00"/><rect x="180" y="641" width="3" height="65" fill="#00ff00"/><rect x="188" y="641" width="3" height="67" fill="#00ff00"/><rect x="196" y="641" width="3" height="70" fill="#00ff00"/><rect x="204" y="641" width="3" height="72" fill="#00ff00"/><rect x="212" y="641" width="3" height="72" fill="#00ff00"/><rect x="220" y="641" width="3" height="67" fill="#00ff00"/><rect x="228" y="641" width="3" height="61" fill="#00ff00"/><rect x="236" y="641" width="3" height="53" fill="#00ff00"/><rect x="244" y="641" width="3" height="47" fill="#00ff00"/><rect x="252" y="641" width="3" height="41" fill="#00ff00"/><rect x="260" y="641" width="3" height="33" fill="#00ff00"/><rect x="268" y="641" width="3" height="23" fill="#00ff00"/><rect x="276" y="641" width="3" height="11" fill="#00ff00"/><rect x="284" y="641" width="3" height="6" fill="#00ff00"/><rect x="292" y="638" width="3" height="3" fill="#00ff00"/><rect x="300" y="624" width="3" height="17" fill="#00ff00"/><rect x="308" y="615" width="3" height="26" fill="#00ff00"/><rect x="316" y="605" width="3" height="36" fill="#00ff00"/><rect x="324" y="603" width="3" height="38" fill="#00ff00"/><rect x="332" y="602" width="3" height="39" fill="#00ff00"/><rect x="340" y="602" width="3" height="39" fill="#00ff00"/><rect x="348" y="603" width="3" height="38" fill="#00ff00"/><rect x="356" y="609" width="3" height="32" fill="#00ff00"/><rect x="364" y="621" width="3" height="20" fill="#00ff00"/><rect x="372" y="636" width="3" height="5" fill="#00ff00"/><rect x="380" y="641" width="3" height="10" fill="#00ff00"/><rect x="388" y="641" width="3" height="18" fill="#00ff00"/><rect x="396" y="641" width="3" height="23" fill="#00ff00"/><rect x="404" y="641" width="3" height="30" fill="#00ff00"/><rect x="412" y="641" width="3" height="30" fill="#00ff00"/><rect x="420" y="641" width="3" height="35" fill="#00ff00"/><rect x="428" y="641" width="3" height="37" fill="#00ff00"/><rect x="436" y="641" width="3" height="31" fill="#00ff00"/><rect x="444" y="641" width="3" height="29" fill="#00ff00"/><rect x="452" y="641" width="3" height="16" fill="#00ff00"/><rect x="460" y="641" width="3" height="8" fill="#00ff00"/><rect x="468" y="641" width="3" height="1" fill="#00ff00"/><rect x="476" y="635" width="3" height="6" fill="#00ff00"/><rect x="484" y="635" width="3" height="6" fill="#00ff00"/><rect x="492" y="636" width="3" height="5" fill="#00ff00"/><rect x="500" y="641" width="3" height="2" fill="#00ff00"/><rect x="508" y="641" width="3" height="7" fill="#00ff00"/><rect x="516" y="641" width="3" height="14" fill="#00ff00"/><rect x="524" y="641" width="3" height="19" fill="#00ff00"/><rect x="532" y="641" width="3" height="19" fill="#00ff00"/><rect x="540" y="641" width="3" height="19" fill="#00ff00"/><rect x="548" y="641" width="3" height="13" fill="#00ff00"/><rect x="556" y="641" width="3" height="10" fill="#00ff00"/><rect x="564" y="641" width="3" height="5" fill="#00ff00"/><rect x="572" y="641" width="3" height="6" fill="#00ff00"/><rect x="580" y="637" width="3" height="4" fill="#00ff00"/><rect x="588" y="628" width="3" height="13" fill="#00ff00"/><rect x="596" y="620" width="3" height="21" fill="#00ff00"/><rect x="604" y="615" width="3" height="26" fill="#00ff00"/><rect x="612" y="620" width="3" height="21" fill="#00ff00"/><rect x="620" y="623" width="3" height="18" fill="#00ff00"/><rect x="628" y="625" width="3" height="16" fill="#00ff00"/><rect x="636" y="628" width="3" height="13" fill="#00ff00"/><rect x="644" y="633" width="3" height="8" fill="#00ff00"/><rect x="652" y="634" width="3" height="7" fill="#00ff00"/><rect x="660" y="635" width="3" height="6" fill="#00ff00"/><rect x="668" y="641" width="3" height="2" fill="#00ff00"/><rect x="676" y="641" width="3" height="4" fill="#00ff00"/><rect x="684" y="641" width="3" height="7" fill="#00ff00"/><rect x="692" y="641" width="3" height="12" fill="#00ff00"/><rect x="700" y="641" width="3" height="17" fill="#00ff00"/><rect x="708" y="641" width="3" height="1" fill="#00ff00"/><rect x="716" y="627" width="3" height="14" fill="#00ff00"/><rect x="724" y="618" width="3" height="23" fill="#00ff00"/><rect x="732" y="612" width="3" height="29" fill="#00ff00"/><rect x="740" y="604" width="3" height="37" fill="#00ff00"/><rect x="748" y="602" width="3" height="39" fill="#00ff00"/><rect x="756" y="586" width="3" height="55" fill="#00ff00"/><rect x="764" y="571" width="3" height="70" fill="#00ff00"/><rect x="772" y="554" width="3" height="87" fill="#00ff00"/><rect x="780" y="544" width="3" height="97" fill="#00ff00"/><rect x="788" y="538" width="3" height="103" fill="#00ff00"/><rect x="796" y="537" width="3" height="104" fill="#00ff00"/><rect x="804" y="544" width="3" height="97" fill="#00ff00"/><rect x="812" y="550" width="3" height="91" fill="#00ff00"/><rect x="820" y="555" width="3" height="86" fill="#00ff00"/><rect x="828" y="555" width="3" height="86" fill="#00ff00"/><rect x="836" y="550" width="3" height="91" fill="#00ff00"/><rect x="844" y="549" width="3" height="92" fill="#00ff00"/><rect x="852" y="555" width="3" height="86" fill="#00ff00"/><rect x="860" y="559" width="3" height="82" fill="#00ff00"/><rect x="868" y="564" width="3" height="77" fill="#00ff00"/><rect x="876" y="572" width="3" height="69" fill="#00ff00"/><rect x="884" y="579" width="3" height="62" fill="#00ff00"/><rect x="892" y="586" width="3" height="55" fill="#00ff00"/><rect x="900" y="597" width="3" height="44" fill="#00ff00"/><rect x="908" y="602" width="3" height="39" fill="#00ff00"/><rect x="916" y="617" width="3" height="24" fill="#00ff00"/><rect x="924" y="636" width="3" height="5" fill="#00ff00"/><rect x="932" y="641" width="3" height="19" fill="#00ff00"/><rect x="940" y="641" width="3" height="33" fill="#00ff00"/><rect x="948" y="641" width="3" height="47" fill="#00ff00"/><rect x="956" y="641" width="3" height="56" fill="#00ff00"/><rect x="964" y="641" width="3" height="64" fill="#00ff00"/><rect x="972" y="641" width="3" height="73" fill="#00ff00"/><rect x="980" y="641" width="3" height="79" fill="#00ff00"/><rect x="988" y="641" width="3" height="81" fill="#00ff00"/><rect x="996" y="641" width="3" height="83" fill="#00ff00"/><rect x="1004" y="641" width="3" height="90" fill="#00ff00"/><rect x="1012" y="641" width="3" height="97" fill="#00ff00"/><rect x="1020" y="641" width="3" height="110" fill="#00ff00"/><rect x="1028" y="641" width="3" height="121" fill="#00ff00"/><rect x="1036" y="641" width="3" height="120" fill="#00ff00"/><rect x="1044" y="641" width="3" height="123" fill="#00ff00"/><rect x="1052" y="641" width="3" height="130" fill="#00ff00"/><rect x="1060" y="641" width="3" height="127" fill="#00ff00"/><rect x="1068" y="641" width="3" height="126" fill="#00ff00"/><rect x="1076" y="641" width="3" height="125" fill="#00ff00"/><rect x="1084" y="641" width="3" height="123" fill="#00ff00"/><rect x="1092" y="641" width="3" height="104" fill="#00ff00"/><rect x="1100" y="641" width="3" height="97" fill="#00ff00"/><rect x="1108" y="641" width="3" height="78" fill="#00ff00"/><rect x="1116" y="641" width="3" height="67" fill="#00ff00"/><rect x="1124" y="641" width="3" height="58" fill="#00ff00"/><rect x="1132" y="641" width="3" height="51" fill="#00ff00"/><rect x="1140" y="641" width="3" height="48" fill="#00ff00"/><rect x="1148" y="641" width="3" height="45" fill="#00ff00"/><rect x="1156" y="641" width="3" height="40" fill="#00ff00"/><rect x="1164" y="641" width="3" height="34" fill="#00ff00"/><rect x="1172" y="641" width="3" height="19" fill="#00ff00"/><rect x="1180" y="641" width="3" height="6" fill="#00ff00"/><rect x="1188" y="640" width="3" height="1" fill="#00ff00"/><rect x="1196" y="637" width="3" height="4" fill="#00ff00"/>
</g>
<rect x="4" y="4" width="1" height="779" fill="#000"/><rect x="1517" y="4" width="1" height="779" fill="#000"/><rect x="4" y="4" width="1514" height="1" fill="#000"/><rect x="4" y="522" width="1514" height="1" fill="#000"/><rect x="4" y="524" width="1514" height="1" fill="#000"/><rect x="4" y="782" width="1514" height="1" fill="#000"/><rect x="4" y="523" width="1514" height="1" fill="#fff"/><rect x="1518" y="32" width="2" height="1" fill="#000"/><rect x="1518" y="97" width="2" height="1" fill="#000"/><rect x="1518" y="162" width="2" height="1" fill="#000"/><rect x="1518" y="227" width="2" height="1" fill="#000"/><rect x="1518" y="292" width="2" height="1" fill="#000"/><rect x="1518" y="357" width="2" height="1" fill="#000"/><rect x="1518" y="422" width="2" height="1" fill="#000"/><rect x="1518" y="487" width="2" height="1" fill="#000"/><rect x="1518" y="526" width="1" height="1" fill="#000"/><rect x="1518" y="641" width="1" height="1" fill="#000"/><rect x="1518" y="781" width="1" height="1" fill="#000"/><rect x="5" y="783" width="1" height="3" fill="#000"/><rect x="133" y="783" width="1" height="3" fill="#000"/><rect x="261" y="783" width="1" height="3" fill="#000"/><rect x="389" y="783" width="1" height="3" fill="#000"/><rect x="517" y="783" width="1" height="3" fill="#000"/><rect x="645" y="783" width="1" height="3" fill="#000"/><rect x="773" y="783" width="1" height="3" fill="#000"/><rect x="901" y="783" width="1" height="3" fill="#000"/><rect x="1029" y="783" width="1" height="3" fill="#000"/><rect x="1157" y="783" width="1" height="3" fill="#000"/>
<rect x="1517" y="376" width="1" height="4" fill="#0000cd"/>
<rect x="1518" y="377" width="1" height="3" fill="#0000cd"/>
<rect x="8" y="12" width="11" height="1" fill="#000"/><rect x="9" y="13" width="9" height="1" fill="#000"/><rect x="10" y="14" width="7" height="1" fill="#000"/><rect x="11" y="15" width="5" height="1" fill="#000"/><rect x="12" y="16" width="3" height="1" fill="#000"/><rect x="13" y="17" width="1" height="1" fill="#000"/><rect x="1206" y="5" width="15" height="1" fill="#696969"/><rect x="1207" y="6" width="13" height="1" fill="#696969"/><rect x="1208" y="7" width="11" height="1" fill="#696969"/><rect x="1209" y="8" width="9" height="1" fill="#696969"/><rect x="1210" y="9" width="7" height="1" fill="#696969"/><rect x="1211" y="10" width="5" height="1" fill="#696969"/><rect x="1212" y="11" width="3" height="1" fill="#696969"/><rect x="1213" y="12" width="1" height="1" fill="#696969"/>
</g>
<g>
<text x="25.6" y="21" fill="#000" stroke="#000" textLength="89.6" lengthAdjust="spacingAndGlyphs">CHINA300-,H4</text><text x="123.0" y="21" fill="#000" stroke="#000" textLength="44.2" lengthAdjust="spacingAndGlyphs">3831.4</text><text x="171.0" y="21" fill="#000" stroke="#000" textLength="44.2" lengthAdjust="spacingAndGlyphs">3836.5</text><text x="219.0" y="21" fill="#000" stroke="#000" textLength="44.2" lengthAdjust="spacingAndGlyphs">3815.5</text><text x="267.0" y="21" fill="#000" stroke="#000" textLength="44.2" lengthAdjust="spacingAndGlyphs">3824.5</text><text x="8.8" y="542" fill="#000" stroke="#000" textLength="96.4" lengthAdjust="spacingAndGlyphs">MACD(12,26,9)</text><text x="108.6" y="542" fill="#000" stroke="#000" textLength="26.4" lengthAdjust="spacingAndGlyphs">1.87</text><text x="140.6" y="542" fill="#000" stroke="#000" textLength="40.2" lengthAdjust="spacingAndGlyphs">-10.98</text><text x="1524.0" y="38" fill="#000" stroke="#000" textLength="44.2" lengthAdjust="spacingAndGlyphs">4078.5</text><text x="1524.0" y="103" fill="#000" stroke="#000" textLength="44.2" lengthAdjust="spacingAndGlyphs">4026.0</text><text x="1524.0" y="168" fill="#000" stroke="#000" textLength="44.2" lengthAdjust="spacingAndGlyphs">3973.5</text><text x="1524.0" y="233" fill="#000" stroke="#000" textLength="44.2" lengthAdjust="spacingAndGlyphs">3921.5</text><text x="1524.0" y="298" fill="#000" stroke="#000" textLength="44.2" lengthAdjust="spacingAndGlyphs">3869.0</text><text x="1524.0" y="363" fill="#000" stroke="#000" textLength="44.2" lengthAdjust="spacingAndGlyphs">3816.5</text><text x="1524.0" y="428" fill="#000" stroke="#000" textLength="44.2" lengthAdjust="spacingAndGlyphs">3764.0</text><text x="1524.0" y="493" fill="#000" stroke="#000" textLength="44.2" lengthAdjust="spacingAndGlyphs">3711.5</text><text x="1520.9" y="540" fill="#000" stroke="#000" textLength="37.0" lengthAdjust="spacingAndGlyphs">49.72</text><text x="1520.9" y="647" fill="#000" stroke="#000" textLength="28.8" lengthAdjust="spacingAndGlyphs">0.00</text><text x="1521.1" y="778" fill="#000" stroke="#000" textLength="41.0" lengthAdjust="spacingAndGlyphs">-60.39</text><text x="4.2" y="800" fill="#000" stroke="#000" textLength="80.4" lengthAdjust="spacingAndGlyphs">22 May 2023</text><text x="132.6" y="800" fill="#000" stroke="#000" textLength="74.6" lengthAdjust="spacingAndGlyphs">1 Jun 01:30</text><text x="260.4" y="800" fill="#000" stroke="#000" textLength="82.4" lengthAdjust="spacingAndGlyphs">13 Jun 01:30</text><text x="388.0" y="800" fill="#000" stroke="#000" textLength="82.8" lengthAdjust="spacingAndGlyphs">27 Jun 01:30</text><text x="516.2" y="800" fill="#000" stroke="#000" textLength="69.2" lengthAdjust="spacingAndGlyphs">7 Jul 01:30</text><text x="644.2" y="800" fill="#000" stroke="#000" textLength="77.0" lengthAdjust="spacingAndGlyphs">19 Jul 01:30</text><text x="772.2" y="800" fill="#000" stroke="#000" textLength="76.8" lengthAdjust="spacingAndGlyphs">31 Jul 01:30</text><text x="900.2" y="800" fill="#000" stroke="#000" textLength="84.8" lengthAdjust="spacingAndGlyphs">10 Aug 01:30</text><text x="1028.0" y="800" fill="#000" stroke="#000" textLength="84.6" lengthAdjust="spacingAndGlyphs">22 Aug 01:30</text><text x="1156.0" y="800" fill="#000" stroke="#000" textLength="76.2" lengthAdjust="spacingAndGlyphs">1 Sep 01:30</text>
</g>
<g shape-rendering="crispEdges">
<rect x="1519" y="339" width="54" height="17" fill="#000"/>
<rect x="1519" y="372" width="54" height="17" fill="#0000cd"/>
</g>
<g clip-path="url(#cs)">
<path d="M5.5 685.9 L13.5 686.5 L21.5 687.5 L29.5 688.1 L37.5 691.5 L45.5 695.3 L53.5 700.5 L61.5 706.5 L69.5 712.9 L77.5 719.9 L85.5 726.9 L93.5 733.9 L101.5 739.9 L109.5 744.5 L117.5 747.9 L125.5 750.8 L133.5 751.0 L141.5 751.0 L149.5 750.6 L157.5 747.3 L165.5 743.9 L173.5 738.9 L181.5 733.9 L189.5 728.5 L197.5 723.5 L205.5 718.5 L213.5 715.3 L221.5 711.5 L229.5 709.3 L237.5 706.3 L245.5 704.5 L253.5 701.5 L261.5 697.9 L269.5 691.9 L277.5 684.8 L285.5 677.3 L293.5 668.9 L301.5 661.6 L309.5 653.0 L317.5 644.6 L325.5 635.5 L333.5 627.8 L341.5 621.5 L349.5 615.4 L357.5 611.2 L365.5 610.9 L373.5 610.9 L381.5 615.6 L390.4 621.9 L398.3 627.9 L410.3 638.9 L421.5 650.9 L430.3 658.9 L438.3 664.3 L446.3 667.9 L457.3 667.9 L470.3 664.5 L485.5 657.5 L501.5 648.9 L509.5 645.1 L517.5 645.0 L525.5 644.1 L533.5 646.3 L541.5 648.6 L549.5 650.8 L557.5 651.9 L565.5 651.9 L573.5 651.9 L581.5 651.9 L589.5 648.5 L597.5 644.9 L605.5 638.9 L613.5 635.3 L621.5 631.3 L629.5 629.3 L637.5 627.3 L645.5 626.3 L653.5 625.9 L661.5 625.9 L669.5 627.9 L677.5 631.5 L685.5 634.9 L693.5 637.9 L701.5 641.3 L709.5 642.9 L717.5 642.5 L725.5 641.9 L733.5 638.3 L741.5 634.9 L749.5 629.9 L757.5 623.5 L765.5 613.9 L773.5 601.9 L781.5 589.9 L789.5 580.8 L797.5 572.0 L805.5 564.0 L813.5 558.0 L821.5 553.6 L829.5 550.6 L837.5 547.6 L845.5 547.0 L853.5 548.0 L861.5 550.2 L869.5 553.0 L877.5 556.0 L885.5 560.0 L893.5 563.0 L901.5 568.6 L909.5 573.8 L917.5 580.3 L925.5 589.5 L933.5 600.7 L941.5 614.2 L949.5 627.2 L957.5 639.0 L965.5 652.5 L973.5 665.4 L981.5 678.0 L989.5 690.2 L997.5 698.3 L1005.5 706.9 L1013.5 714.5 L1021.5 721.3 L1029.5 728.5 L1037.5 734.9 L1045.5 740.5 L1053.5 745.9 L1061.5 751.2 L1069.5 756.2 L1077.5 760.4 L1085.5 762.8 L1093.5 762.8 L1101.5 759.8 L1109.5 756.2 L1117.5 750.4 L1125.5 742.3 L1133.5 733.3 L1141.5 725.2 L1149.5 714.8 L1157.5 704.8 L1165.5 696.8 L1173.5 688.8 L1181.5 680.9 L1189.5 673.0 L1197.5 667.9" fill="none" stroke="#ff0000" stroke-width="2" stroke-linejoin="round" shape-rendering="crispEdges"/>
</g>
<g fill="#ff0000" stroke="none">
<line x1="1209.8" y1="374.7" x2="1239.5" y2="267.5" stroke="#ff0000" stroke-width="6" stroke-linecap="round"/>
<polygon points="1249.1,233.4 1228,264.3 1251,270.6"/>
</g>
<g>
<text x="1524.0" y="353" fill="#fff" stroke="none" textLength="44.2" lengthAdjust="spacingAndGlyphs">3824.5</text>
<text x="1524.0" y="386" fill="#fff" stroke="none" textLength="44.2" lengthAdjust="spacingAndGlyphs">3800.0</text>
</g>
</svg>
</body>
</html>
